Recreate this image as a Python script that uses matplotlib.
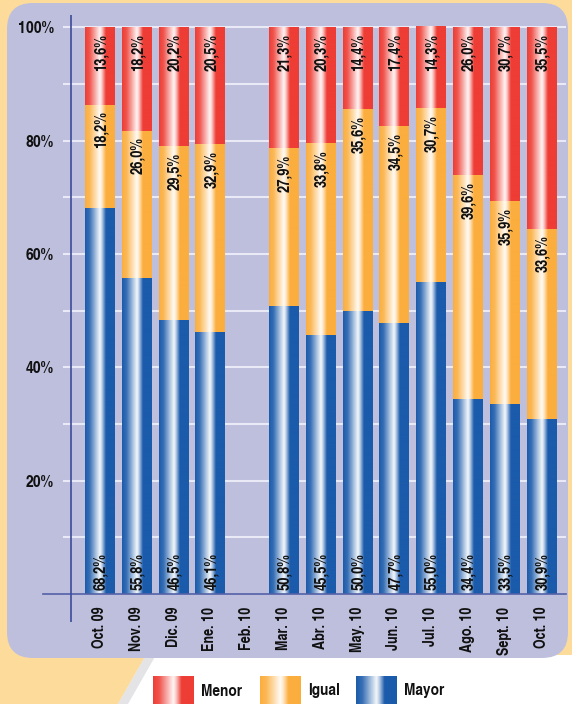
import numpy as np
import matplotlib
matplotlib.use('Agg')
import matplotlib.pyplot as plt
from matplotlib import font_manager
from matplotlib.font_manager import FontProperties
from matplotlib.patches import FancyBboxPatch, Polygon

# Datos
meses = ['Oct. 09', 'Nov. 09', 'Dic. 09', 'Ene. 10', 'Feb. 10', 'Mar. 10', 'Abr. 10',
         'May. 10', 'Jun. 10', 'Jul. 10', 'Ago. 10', 'Sept. 10', 'Oct. 10']
mayor = [68.2, 55.8, 46.5, 46.1, np.nan, 50.8, 45.5, 50.0, 47.7, 55.0, 34.4, 33.5, 30.9]
igual = [18.2, 26.0, 29.5, 32.9, np.nan, 27.9, 33.8, 35.6, 34.5, 30.7, 39.6, 35.9, 33.6]
menor = [13.6, 18.2, 20.2, 20.5, np.nan, 21.3, 20.3, 14.4, 17.4, 14.3, 26.0, 30.7, 35.5]
yticks = [20, 40, 60, 80, 100]

# Colores
c_naranja_fondo = '#FDDB9B'
c_panel = '#BDBFDD'
c_azul = '#1B5BAB'
c_rojo = '#EE3D35'
c_naranja = '#FBAE3E'

fig = plt.figure(figsize=(5.72, 7.04), dpi=100)
fig.patch.set_facecolor(c_naranja_fondo)
renderer = fig.canvas.get_renderer()

# Fuente condensada negrita (Helvetica Cn) si esta, si no DejaVu Sans
nombres = {f.name for f in font_manager.fontManager.ttflist}
if 'TeX Gyre Heros Cn' in nombres:
    base_fp = FontProperties(family='TeX Gyre Heros Cn', weight='bold')
else:
    base_fp = FontProperties(family='DejaVu Sans', weight='bold')


def ancho_texto(fp, s):
    t = fig.text(0, 0, s, fontproperties=fp)
    w = t.get_window_extent(renderer).width
    t.remove()
    return w


def fuente(muestra, px, maximo):
    # tamaño para que la muestra ocupe px pixeles
    fp = base_fp.copy()
    fp.set_size(10)
    fp.set_size(min(maximo, 10 * px / ancho_texto(fp, muestra)))
    return fp


fp_barra = fuente('13,6%', 37, 13)
fp_x = fuente('Oct. 09', 42, 14)
fp_y = fuente('100%', 36, 14)
fp_ley = fuente('Menor', 41, 15)


def gradiente(color, n=120):
    base = np.array(matplotlib.colors.to_rgb(color))
    t = np.linspace(0, 1, n)
    w = np.interp(t, [0, 0.15, 0.5, 0.57, 0.7, 1], [0, 0.12, 0.95, 0.7, 0, 0])
    img = base[None, :] * (1 - w[:, None]) + w[:, None]
    return img[None, :, :]


# Fondo (coordenadas en pixeles)
bg = fig.add_axes([0, 0, 1, 1], zorder=0)
bg.set_xlim(0, 572)
bg.set_ylim(704, 0)
bg.axis('off')
bg.add_patch(Polygon([(146, 655), (572, 655), (572, 704), (118, 704)], closed=True,
                     facecolor='white', edgecolor='none'))
bg.add_patch(Polygon([(146, 655), (156, 655), (128, 704), (118, 704)], closed=True,
                     facecolor='#D9D9DE', edgecolor='none', alpha=0.7))
bg.add_patch(FancyBboxPatch((7, 3), 561, 655, boxstyle='round,pad=0,rounding_size=26',
                            facecolor=c_panel, edgecolor='none'))

# Leyenda
leyenda = [('Menor', c_rojo, 153), ('Igual', c_naranja, 260), ('Mayor', c_azul, 356)]
for nombre, color, x0 in leyenda:
    bg.imshow(gradiente(color), extent=(x0, x0 + 41, 704, 676), aspect='auto',
              interpolation='bilinear', zorder=2)
    bg.text(x0 + 48, 691, nombre, ha='left', va='center', color='#111111',
            fontproperties=fp_ley)
bg.set_xlim(0, 572)
bg.set_ylim(704, 0)

# Grafico principal
ax = fig.add_axes([63 / 572, (704 - 622) / 704, 503 / 572, 607 / 704], zorder=1)
ax.patch.set_alpha(0)
for s in ax.spines.values():
    s.set_visible(False)

x = np.arange(len(meses))
tot = np.array(mayor) + np.array(igual) + np.array(menor)
may_n = np.array(mayor) / tot * 100
igu_n = np.array(igual) / tot * 100
men_n = np.array(menor) / tot * 100

ancho = 0.79
series = [(may_n, np.zeros(len(x)), c_azul, mayor),
          (igu_n, may_n, c_naranja, igual),
          (men_n, may_n + igu_n, c_rojo, menor)]

for g in range(10, 101, 10):
    ax.axhline(g, color='#E9EAF6', lw=1.5, zorder=1)

for k, (vals, base, color, etiquetas) in enumerate(series):
    barras = ax.bar(x, vals, ancho, bottom=base, facecolor='none', edgecolor='none', zorder=2)
    for b, v in zip(barras, etiquetas):
        if not np.isfinite(b.get_height()):
            continue
        x0, y0 = b.get_x(), b.get_y()
        ax.imshow(gradiente(color), extent=(x0, x0 + b.get_width(), y0, y0 + b.get_height()),
                  aspect='auto', interpolation='bilinear', zorder=2)
        txt = f'{v:.1f}%'.replace('.', ',')
        cx = x0 + b.get_width() / 2
        if k == 0:
            ax.annotate(txt, (cx, y0), xytext=(1, 4), textcoords='offset pixels',
                        rotation=90, ha='center', va='bottom', color='#111111',
                        zorder=3, fontproperties=fp_barra)
        else:
            ax.annotate(txt, (cx, y0 + b.get_height()), xytext=(1, -7),
                        textcoords='offset pixels', rotation=90, ha='center', va='top',
                        color='#111111', zorder=3, fontproperties=fp_barra)

ax.set_xlim(-0.992, 12.677)
ax.set_ylim(-4.94, 102.2)

# Ejes
ax.plot([-1.535, 12.677], [0, 0], color='#5361A6', lw=1.2, clip_on=False, zorder=4)
ax.axvline(-0.774, color='#3C4B9C', lw=1.2, zorder=4)

ax.set_yticks(yticks)
ax.set_yticklabels([f'{v}%' for v in yticks], color='#111111', fontproperties=fp_y)
ax.set_xticks(x)
ax.set_xticklabels(meses, rotation=90, color='#111111', fontproperties=fp_x)
ax.tick_params(axis='y', length=0, pad=6.5)
ax.tick_params(axis='x', length=0, pad=-11)

fig.savefig('out.png', dpi=100, facecolor=fig.get_facecolor())
